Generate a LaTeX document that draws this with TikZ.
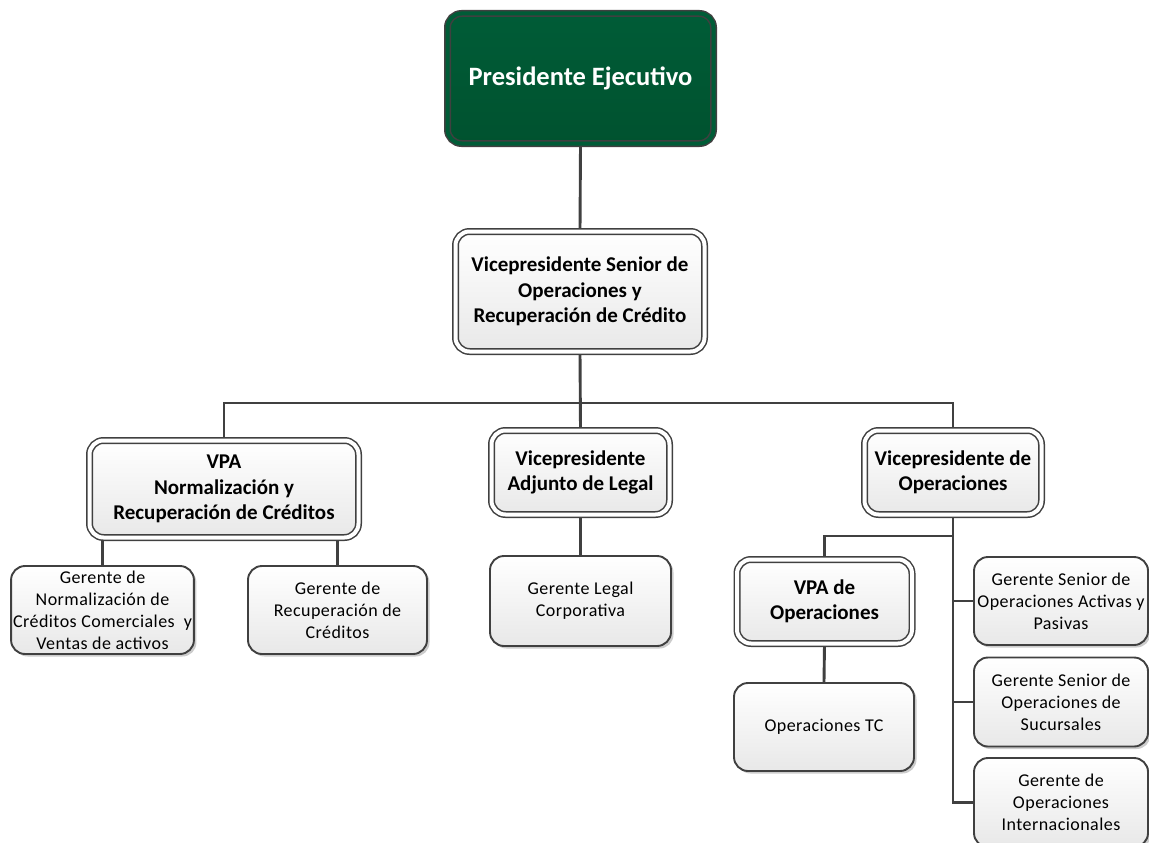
\documentclass[tikz,border=0pt]{standalone}
\usepackage{fontspec}
\setmainfont{Carlito}
\usetikzlibrary{shadows,backgrounds}
\definecolor{edge}{HTML}{404040}
\definecolor{pgreen}{HTML}{005C37}
\definecolor{pgreenb}{HTML}{00522F}
\tikzset{
  conn/.style={draw=edge, line width=2.9pt},
  basebox/.style={rectangle, rounded corners=14pt, draw=edge, top color=white, bottom color=black!9,
    align=center, inner sep=2pt,
    drop shadow={shadow xshift=2.5pt, shadow yshift=-2.5pt, opacity=0.2, fill=black}},
  single/.style={basebox, line width=1.9pt, font=\fontsize{18}{22}\selectfont\addfontfeatures{LetterSpace=2.5}},
  dbl/.style={basebox, line width=1.5pt, double=white, double distance=4pt,
    font=\fontsize{21}{25.5}\selectfont\bfseries},
}
\begin{document}
\begin{tikzpicture}[x=1pt,y=-1pt]
\useasboundingbox (0,0) rectangle (1149,843);
% nodes
\node[dbl, double=pgreen, top color=pgreen, bottom color=pgreenb, text=white,
  font=\fontsize{26.5}{30}\selectfont\bfseries, minimum width=266pt, minimum height=130pt]
  (pres) at (580.5,78.5) {Presidente Ejecutivo};
\node[dbl, minimum width=249pt, minimum height=120pt] (vps) at (580,291.5)
  {Vicepresidente Senior de\\Operaciones y\\Recuperación de Crédito};
\node[dbl, minimum width=269pt, minimum height=97pt] (vpa) at (224,489)
  {VPA\\Normalización y\\Recuperación de Créditos};
\node[dbl, minimum width=178pt, minimum height=84pt] (legal) at (580.5,472.5)
  {Vicepresidente\\Adjunto de Legal};
\node[dbl, minimum width=177pt, minimum height=84pt] (vpops) at (953,472.5)
  {Vicepresidente de\\Operaciones};
\node[single, minimum width=179pt, minimum height=88pt] (gnorm) at (102.5,610)
  {Gerente de\\Normalización de\\Créditos Comerciales\ \ y\\Ventas de activos};
\node[single, minimum width=179pt, minimum height=88pt] (grec) at (337.5,610)
  {Gerente de\\Recuperación de\\Créditos};
\node[single, minimum width=181pt, minimum height=90pt] (glegal) at (580.5,601)
  {Gerente Legal\\Corporativa};
\node[dbl, minimum width=175pt, minimum height=84pt] (vpaops) at (824.5,601.5)
  {VPA de\\Operaciones};
\node[single, minimum width=180pt, minimum height=88pt] (optc) at (824,727)
  {Operaciones TC};
\node[single, minimum width=174pt, minimum height=88pt] (r1) at (1061,601)
  {Gerente Senior de\\Operaciones Activas y\\Pasivas};
\node[single, minimum width=174pt, minimum height=89pt] (r2) at (1061,702)
  {Gerente Senior de\\Operaciones de\\Sucursales};
\node[single, minimum width=174pt, minimum height=89pt] (r3) at (1061,802.5)
  {Gerente de\\Operaciones\\Internacionales};
\coordinate (bus) at (580,403);
\coordinate (opsbranch) at (953,536);
% connectors
\begin{scope}[on background layer]
\draw[conn] (pres.south) -- (vps.north);
\draw[conn] (vps.south) -- (legal.north);
\draw[conn] (vpa.north) |- (bus) -| (vpops.north);
\draw[conn] (gnorm.north) -- (gnorm.north |- vpa.south);
\draw[conn] (grec.north) -- (grec.north |- vpa.south);
\draw[conn] (legal.south) -- (glegal.north);
\draw[conn] (vpops.south) -- (vpops.south |- r3.west) -- (r3.west);
\draw[conn] (r1.west) -- (r1.west -| vpops.south);
\draw[conn] (r2.west) -- (r2.west -| vpops.south);
\draw[conn] (vpaops.north) |- (opsbranch);
\draw[conn] (vpaops.south) -- (optc.north);
\end{scope}
\end{tikzpicture}
\end{document}
